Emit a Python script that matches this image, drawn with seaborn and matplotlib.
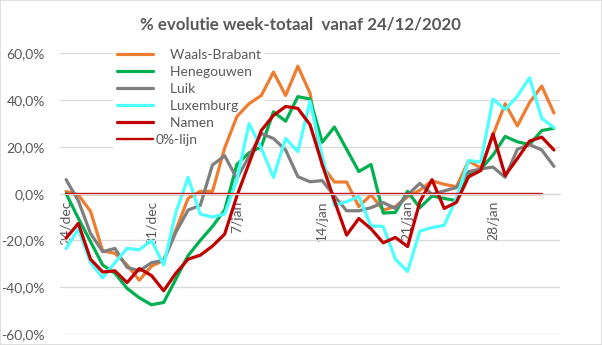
import numpy as np
import pandas as pd
import matplotlib
matplotlib.use("Agg")
import matplotlib.pyplot as plt
import matplotlib.patches as mpatches
from matplotlib.lines import Line2D
from matplotlib.ticker import FuncFormatter
import seaborn as sns

# ---------------- data ----------------
days = list(range(41))
tick_positions = [0, 7, 14, 21, 28, 35]
tick_labels = ["24/dec", "31/dec", "7/jan", "14/jan", "21/jan", "28/jan"]
series_names = ["Waals-Brabant", "Henegouwen", "Luik", "Luxemburg", "Namen"]

waals_brabant = [1, -0.5, -7.5, -24.5, -25.5, -30.5, -37, -31, -28.5, -15.5,
                 -2, 1, 1, 19.5, 33, 38.5, 42, 52, 42, 54.5,
                 43, 12, 5, 5, -5.5, -0.5, -7, -5.5, -1.3, 1.5,
                 5.5, 4, 3, 14, 11, 25, 38.5, 29, 39, 46, 34.5]
henegouwen = [0, -10.5, -20.5, -30.5, -34, -40.5, -44.5, -47.5, -46.5, -36.5,
              -26.5, -20, -14, -7, 12.5, 17.5, 20, 35, 31, 41.5,
              40.5, 22, 28.5, 19, 9.5, 12.5, -8.3, -8, 1, -6,
              -1, -2, -3, 8, 10.5, 16.5, 24.5, 22.2, 21, 27, 28]
luik = [6, -3, -17, -24.8, -23.4, -31.5, -33, -29.5, -28.5, -16.5,
        -7, -5, 12.3, 16.2, 6.5, 16, 25.8, 23.6, 18.7, 7.3,
        5.1, 5.6, -1, -7.3, -7.3, -6, -3.8, -6.3, -0.5, 4.4,
        -0.3, 1.2, 2.6, 9.4, 10.6, 11.4, 7, 19, 21, 18.7, 11.7]
luxemburg = [-23.5, -15, -29.5, -36, -29.5, -23.4, -24, -20, -30.5, -8,
             7, -8.7, -10, -8.7, 6, 30, 19.5, 7, 23.6, 18,
             39.5, 16, -5, -3.4, -1.2, -13.8, -14, -28, -33.3, -16,
             -14.5, -13.5, -2, 14.2, 13.5, 40.5, 36, 41.7, 49.6, 32.2, 28.3]
namen = [-19, -12.7, -28, -33.5, -33, -38, -32, -35, -41.5, -34,
         -28, -26.3, -22.4, -17.3, -1, 13, 27, 33.5, 37.3, 36.5,
         29.5, 12.5, -3, -17.7, -10.6, -15, -21, -18.7, -22.6, -3.5,
         6, -6.3, -3.7, 7.2, 9.9, 25.6, 7.8, 15, 22.5, 24.2, 18.7]
nul_lijn = [0] * 40

colors = {"Waals-Brabant": "#ED7D31", "Henegouwen": "#00B050", "Luik": "#7F7F7F",
          "Luxemburg": "#4DFFFF", "Namen": "#C00000", "0%-lijn": "#C00000"}

# ---------------- frames ----------------
values = [waals_brabant, henegouwen, luik, luxemburg, namen]
long = pd.concat([pd.DataFrame({"dag": days, "waarde": v, "reeks": n})
                  for n, v in zip(series_names, values)], ignore_index=True)
zero_df = pd.DataFrame({"dag": days[:40], "waarde": nul_lijn})

# ---------------- plot ----------------
sns.set_theme(style="white")
plt.rcParams['font.family'] = ['Lato', 'DejaVu Sans']
text_col = "#595959"
grid_col = "#D9D9D9"

fig = plt.figure(figsize=(6.02, 3.45), dpi=100)
ax = fig.add_axes([0.0997, 0.0319, 0.8306, 0.8133])

sns.lineplot(data=long, x="dag", y="waarde", hue="reeks", hue_order=series_names,
             palette=colors, linewidth=2.3, ax=ax, legend=False, sort=False)
sns.lineplot(data=zero_df, x="dag", y="waarde", color=colors["0%-lijn"],
             linewidth=1.7, ax=ax, legend=False)

ax.set_xlim(-0.5, 40.5)
ax.set_ylim(-60, 60)
ax.set_yticks([-60, -40, -20, 0, 20, 40, 60])
ax.yaxis.set_major_formatter(FuncFormatter(lambda v, p: f"{v:.1f}%".replace(".", ",")))
ax.yaxis.grid(True, color=grid_col, linewidth=0.9)
ax.xaxis.grid(False)
ax.set_axisbelow(True)

for s in ["left", "right", "top"]:
    ax.spines[s].set_visible(False)
ax.spines["bottom"].set_position(("data", 0))
ax.spines["bottom"].set_color(grid_col)
ax.spines["bottom"].set_linewidth(0.9)

ax.set_xticks(tick_positions)
ax.set_xticklabels(tick_labels, rotation=90)
ax.set_xticks([p - 0.5 for p in tick_positions], minor=True)
ax.tick_params(axis="x", which="major", length=0, pad=5, labelsize=10, labelcolor=text_col)
ax.tick_params(axis="x", which="minor", length=3, width=0.9, color=grid_col, direction="out")
ax.tick_params(axis="y", length=0, pad=11, labelsize=10, labelcolor=text_col)
ax.set_xlabel("")
ax.set_ylabel("")

# legend
handles = [Line2D([], [], color=colors[n], linewidth=2.3) for n in series_names]
handles.append(Line2D([], [], color=colors["0%-lijn"], linewidth=1.7))
labels = ["    " + n for n in series_names] + ["0%-lijn"]
leg = ax.legend(handles, labels, loc="upper left", bbox_to_anchor=(0.176, 0.89),
                bbox_transform=fig.transFigure, frameon=True, fancybox=False,
                framealpha=1, facecolor="white", edgecolor="none",
                handlelength=2.6, handletextpad=0.2, labelspacing=0.36,
                borderpad=0.3, fontsize=10, labelcolor=text_col)
leg.set_zorder(1.5)

fig.text(0.5, 0.93, "% evolutie week-totaal  vanaf 24/12/2020", ha="center", va="center",
         fontsize=12.2, fontweight="bold", color=text_col)

fig.patches.append(mpatches.Rectangle((0, 0), 1, 1, transform=fig.transFigure, fill=False,
                                      edgecolor=grid_col, linewidth=1.2))

fig.savefig("out.png", dpi=100, facecolor="white")
